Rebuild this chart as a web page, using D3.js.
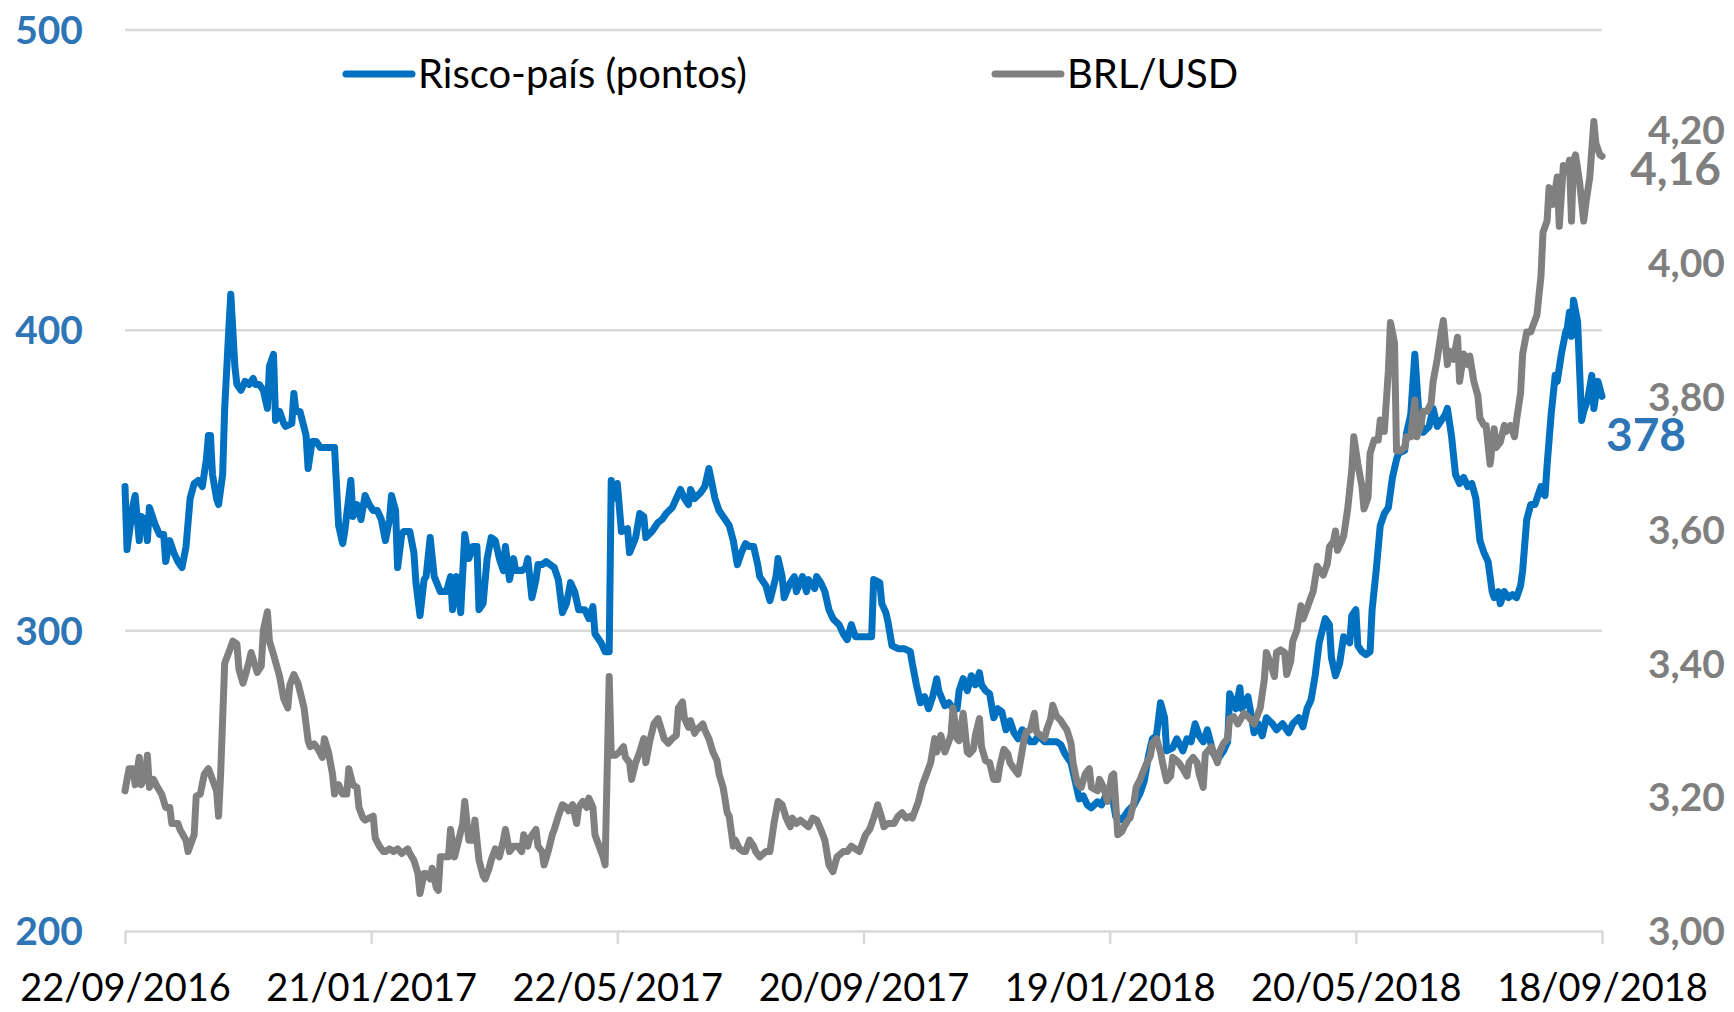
<!DOCTYPE html>
<html>
<head>
<meta charset="utf-8">
<title>Risco-país e BRL/USD</title>
<script src="https://cdnjs.cloudflare.com/ajax/libs/d3/7.8.5/d3.min.js"></script>
<style>
body {
  margin: 0;
  background: #ffffff;
}
svg {
  display: block;
  font-family: Lato, "Open Sans", sans-serif;
}
.grid line {
  stroke: #d9d9d9;
  stroke-width: 2.5px;
}
.series {
  fill: none;
  stroke-width: 7px;
  stroke-linejoin: round;
  stroke-linecap: round;
}
</style>
</head>
<body>
<div id="chart"></div>
<script>
// x axis labels (dd/mm/yyyy), also used as tick positions
var tickLabels = ["22/09/2016", "21/01/2017", "22/05/2017", "20/09/2017",
  "19/01/2018", "20/05/2018", "18/09/2018"];
var leftTicks = [200, 300, 400, 500];
var rightTicks = [3.0, 3.2, 3.4, 3.6, 3.8, 4.0, 4.2];

// Risco-país (pontos): days after 22/09/2016, values
var riscoDays = [0,1,4,5,7,8,10,11,12,15,17,19,20,22,24,26,28,30,32,34,36,38,40,41,42,43,45,46,48,49,
  51,52,54,55,57,59,61,63,64,66,68,70,71,73,74,76,78,79,82,83,84,86,89,90,92,94,96,100,103,105,
  107,108,111,112,114,116,118,120,122,124,126,128,130,131,133,134,136,137,140,142,143,145,147,148,150,152,155,158,160,161,
  163,165,167,169,171,173,174,176,178,180,182,184,186,187,189,191,192,195,197,198,200,202,203,205,207,209,211,213,215,217,
  219,221,223,226,228,230,231,234,236,238,239,240,242,244,247,248,251,253,255,256,259,262,264,266,269,271,273,275,277,278,
  280,283,285,287,290,292,295,297,299,301,303,305,307,309,311,312,315,317,320,321,323,324,327,329,330,333,335,336,339,340,
  342,344,346,348,351,353,355,357,359,361,365,367,368,371,372,374,375,377,380,383,386,387,389,391,393,395,397,399,400,403,
  405,407,409,410,412,414,416,418,420,421,423,425,427,429,431,433,435,437,439,441,443,445,447,449,452,455,458,460,462,465,
  467,469,471,473,475,478,480,482,485,487,490,493,496,499,501,503,505,507,509,511,512,515,517,520,522,524,526,528,530,532,
  535,537,540,542,543,546,548,549,552,553,555,557,559,561,564,566,569,572,574,577,579,581,583,585,587,590,592,593,595,597,
  599,602,603,605,606,608,610,612,613,615,617,619,621,623,625,626,629,630,632,634,636,638,641,643,645,647,649,650,652,654,
  656,658,660,662,664,666,668,670,672,673,675,676,678,680,682,684,686,687,689,691,693,694,696,698,699,701,703,704,706,708,
  709,710,711,712,714,716,717,719,721,722,724,726];
var riscoValues = [348,327,342,345,330,338,337,330,341,335,332,332,323,330,326,323,321,328,344,349,350,348,357,365,365,352,344,342,352,374,
  400,412,388,382,380,383,382,384,382,382,380,374,388,392,370,373,369,368,369,379,373,373,365,354,363,363,361,361,361,335,
  329,333,350,338,342,337,345,342,340,340,337,330,337,345,340,321,332,333,333,326,316,305,317,318,331,318,313,313,318,307,
  318,306,332,324,328,328,307,309,324,331,330,324,320,328,317,324,320,320,321,324,311,317,322,322,323,322,321,317,306,309,
  316,313,307,307,304,308,299,296,293,293,350,344,349,333,334,326,331,339,338,331,333,336,337,339,341,344,347,344,342,347,
  344,346,348,354,344,340,337,335,330,322,326,329,328,328,322,318,315,310,318,324,318,311,316,318,313,318,313,317,314,318,
  316,313,307,304,302,299,297,302,298,298,298,298,317,316,309,306,303,295,294,294,293,289,282,276,278,274,278,284,280,275,
  276,274,274,280,284,280,285,282,286,282,280,279,271,274,273,267,270,266,264,267,265,263,263,265,263,263,263,262,259,256,
  250,244,245,242,241,243,242,245,246,238,237,240,242,246,250,258,264,265,276,271,260,261,264,260,264,263,269,265,263,267,
  259,257,260,263,279,274,281,274,278,274,266,269,265,271,269,267,269,266,269,271,268,274,277,285,296,304,302,291,285,289,
  298,296,305,307,295,293,292,293,307,320,335,339,341,351,357,359,360,366,372,392,372,366,368,374,368,370,372,374,365,352,
  349,351,348,349,344,330,326,323,313,311,313,309,313,311,312,311,315,320,337,342,342,344,348,345,355,372,385,383,392,399,
  401,406,398,410,403,370,373,377,385,374,383,378];

// BRL/USD: days after 22/09/2016, values
var brlDays = [0,2,4,5,7,8,10,11,12,14,16,18,20,22,23,26,27,30,31,34,35,37,39,41,42,45,46,47,49,51,
  53,55,56,58,59,61,62,64,65,67,68,70,71,73,75,76,78,80,81,83,85,86,88,90,91,93,95,97,98,100,
  102,103,105,107,109,110,112,114,115,117,118,120,122,123,125,127,128,130,132,134,136,139,140,142,144,145,147,148,150,151,
  153,154,155,157,159,160,162,164,166,167,169,171,172,174,176,177,179,180,182,184,186,187,189,191,193,195,196,198,199,202,
  203,205,206,208,210,211,213,215,217,218,220,222,223,225,227,228,230,231,234,235,236,238,239,241,243,245,246,248,249,251,
  253,255,256,258,260,262,265,267,269,271,272,274,275,277,278,280,281,284,285,287,289,291,292,294,296,297,299,300,302,304,
  305,307,309,310,312,315,317,319,321,323,325,327,328,330,332,334,336,338,340,342,344,346,348,350,353,355,357,359,361,364,
  366,368,370,372,373,375,378,380,382,384,386,387,390,392,394,396,398,399,401,403,404,406,407,409,410,412,414,415,417,418,
  420,421,423,425,427,429,430,432,434,435,437,439,440,442,443,445,447,448,450,452,453,455,456,458,460,461,463,465,466,468,
  470,472,474,475,478,479,481,483,485,486,488,490,491,493,494,496,497,499,500,502,504,505,507,509,510,512,514,515,517,518,
  520,522,523,525,527,528,530,531,534,535,537,538,540,542,543,545,547,548,550,552,553,555,556,558,560,561,563,565,566,568,
  570,571,573,574,576,578,579,581,583,584,586,587,589,591,592,594,595,596,598,599,601,603,604,606,608,609,611,612,614,616,
  617,619,621,622,624,625,627,629,630,632,634,635,637,638,640,642,643,645,647,648,650,651,653,655,656,658,660,661,663,665,
  666,668,669,671,673,674,676,678,679,681,683,684,686,687,689,691,692,694,696,697,699,700,702,704,705,707,709,710,711,712,
  713,715,717,718,720,722,723,725,726];
var brlValues = [3.210,3.243,3.243,3.219,3.260,3.219,3.235,3.263,3.215,3.227,3.215,3.205,3.185,3.185,3.161,3.161,3.152,3.136,3.119,3.144,
  3.202,3.205,3.235,3.243,3.235,3.210,3.172,3.235,3.401,3.417,3.434,3.430,3.392,3.371,3.381,3.404,3.417,3.397,3.387,3.397,
  3.450,3.478,3.434,3.414,3.392,3.381,3.348,3.334,3.368,3.384,3.371,3.359,3.334,3.285,3.276,3.280,3.272,3.260,3.288,3.268,
  3.235,3.205,3.219,3.205,3.205,3.243,3.219,3.215,3.185,3.169,3.166,3.169,3.172,3.139,3.127,3.119,3.119,3.123,3.119,3.123,
  3.116,3.123,3.116,3.106,3.086,3.056,3.086,3.086,3.078,3.094,3.065,3.061,3.111,3.111,3.111,3.152,3.111,3.136,3.161,3.194,
  3.136,3.136,3.166,3.106,3.083,3.078,3.094,3.106,3.123,3.111,3.136,3.152,3.119,3.127,3.127,3.119,3.144,3.127,3.139,3.152,
  3.127,3.119,3.099,3.119,3.144,3.152,3.172,3.189,3.185,3.180,3.189,3.161,3.185,3.194,3.185,3.199,3.185,3.144,3.119,3.111,
  3.099,3.381,3.263,3.263,3.268,3.276,3.260,3.252,3.227,3.252,3.268,3.288,3.252,3.285,3.310,3.318,3.288,3.281,3.288,3.293,
  3.334,3.343,3.318,3.305,3.315,3.296,3.301,3.310,3.301,3.288,3.268,3.255,3.235,3.215,3.177,3.172,3.127,3.136,3.123,3.119,
  3.119,3.136,3.127,3.119,3.111,3.119,3.119,3.161,3.194,3.189,3.169,3.156,3.169,3.161,3.166,3.161,3.156,3.169,3.166,3.152,
  3.136,3.099,3.089,3.111,3.119,3.119,3.127,3.123,3.119,3.144,3.152,3.169,3.189,3.169,3.156,3.161,3.161,3.172,3.177,3.169,
  3.172,3.169,3.194,3.219,3.235,3.252,3.288,3.268,3.293,3.268,3.276,3.293,3.334,3.288,3.285,3.326,3.268,3.265,3.272,3.293,
  3.318,3.276,3.255,3.252,3.227,3.227,3.247,3.272,3.265,3.252,3.243,3.235,3.252,3.288,3.298,3.301,3.326,3.298,3.293,3.288,
  3.301,3.318,3.338,3.321,3.315,3.310,3.301,3.281,3.252,3.222,3.215,3.235,3.243,3.215,3.210,3.227,3.215,3.194,3.232,3.235,
  3.144,3.149,3.156,3.166,3.169,3.194,3.215,3.227,3.235,3.250,3.262,3.281,3.288,3.268,3.252,3.225,3.232,3.260,3.255,3.252,
  3.243,3.232,3.252,3.260,3.252,3.235,3.215,3.265,3.276,3.268,3.252,3.268,3.281,3.288,3.318,3.321,3.310,3.315,3.326,3.321,
  3.318,3.310,3.318,3.334,3.376,3.417,3.401,3.381,3.417,3.421,3.417,3.384,3.404,3.434,3.450,3.487,3.467,3.483,3.500,3.508,
  3.546,3.541,3.533,3.550,3.575,3.583,3.599,3.570,3.583,3.591,3.632,3.690,3.740,3.699,3.666,3.632,3.649,3.715,3.735,3.735,
  3.765,3.748,3.839,3.911,3.881,3.719,3.719,3.724,3.740,3.740,3.795,3.740,3.757,3.778,3.778,3.790,3.823,3.856,3.897,3.914,
  3.848,3.868,3.856,3.889,3.823,3.864,3.848,3.861,3.823,3.801,3.768,3.757,3.757,3.699,3.752,3.724,3.732,3.757,3.748,3.757,
  3.740,3.765,3.806,3.864,3.897,3.897,3.906,3.922,3.980,4.046,4.063,4.113,4.088,4.129,4.055,4.146,4.137,4.154,4.063,4.154,
  4.162,4.121,4.063,4.088,4.129,4.212,4.179,4.162,4.160];

var legendNames = ["Risco-país (pontos)", "BRL/USD"];
var seriesColors = ["#0070c0", "#808080"];

var width = 1734,
  height = 1012,
  margin = {top: 30, right: 132, bottom: 81, left: 125};

var parseDate = d3.timeParse("%d/%m/%Y");
var tickDates = tickLabels.map(parseDate);
var start = tickDates[0];

var x = d3.scaleTime()
  .domain([tickDates[0], tickDates[tickDates.length - 1]])
  .range([margin.left, width - margin.right]);

var yLeft = d3.scaleLinear()
  .domain([200, 500])
  .range([height - margin.bottom, margin.top]);

var yRight = d3.scaleLinear()
  .domain([3, 4.349])
  .range([height - margin.bottom, margin.top]);

var ptBR = d3.formatLocale({decimal: ",", thousands: ".", grouping: [3], currency: ["R$", ""]});
var fmtRight = ptBR.format(".2f");

var svg = d3.select("#chart")
  .append("svg")
  .attr("width", width)
  .attr("height", height);

// horizontal gridlines
svg.append("g")
  .attr("class", "grid")
  .selectAll("line")
  .data(leftTicks.slice(1))
  .enter()
  .append("line")
  .attr("x1", margin.left)
  .attr("x2", width - margin.right)
  .attr("y1", function(d) { return yLeft(d); })
  .attr("y2", function(d) { return yLeft(d); });

// x axis
var xAxis = d3.axisBottom(x)
  .tickValues(tickDates)
  .tickSize(13)
  .tickSizeOuter(0)
  .tickPadding(30)
  .tickFormat(d3.timeFormat("%d/%m/%Y"));

var gx = svg.append("g")
  .attr("transform", "translate(0," + yLeft(200) + ")")
  .call(xAxis);
gx.select(".domain").attr("stroke", "#d9d9d9").attr("stroke-width", 2.5);
gx.selectAll(".tick line").attr("stroke", "#d9d9d9").attr("stroke-width", 2.5);
gx.selectAll(".tick text")
  .attr("fill", "#000")
  .style("font-size", "38px")
  .style("font-family", "Lato, sans-serif");

// left axis labels
svg.append("g")
  .selectAll("text")
  .data(leftTicks)
  .enter()
  .append("text")
  .attr("x", 83)
  .attr("y", function(d) { return yLeft(d); })
  .attr("dy", "0.36em")
  .attr("text-anchor", "end")
  .attr("fill", "#2e75b6")
  .style("font-size", "39px")
  .style("font-weight", "bold")
  .text(function(d) { return d; });

// right axis labels
svg.append("g")
  .selectAll("text")
  .data(rightTicks)
  .enter()
  .append("text")
  .attr("x", 1725)
  .attr("y", function(d) { return yRight(d); })
  .attr("dy", "0.36em")
  .attr("text-anchor", "end")
  .attr("fill", "#7f7f7f")
  .style("font-size", "39px")
  .style("font-weight", "bold")
  .text(function(d) { return fmtRight(d); });

function toPoints(days, values) {
  return days.map(function(d, i) {
    return {date: d3.timeDay.offset(start, d), value: values[i]};
  });
}

var risco = toPoints(riscoDays, riscoValues);
var brl = toPoints(brlDays, brlValues);

var lineLeft = d3.line()
  .x(function(d) { return x(d.date); })
  .y(function(d) { return yLeft(d.value); });

var lineRight = d3.line()
  .x(function(d) { return x(d.date); })
  .y(function(d) { return yRight(d.value); });

svg.append("path")
  .datum(risco)
  .attr("class", "series")
  .attr("stroke", seriesColors[0])
  .attr("d", lineLeft);

svg.append("path")
  .datum(brl)
  .attr("class", "series")
  .attr("stroke", seriesColors[1])
  .attr("d", lineRight);

// last value labels
var lastRisco = risco[risco.length - 1],
  lastBrl = brl[brl.length - 1];

svg.append("text")
  .attr("x", x(lastRisco.date) + 4)
  .attr("y", yLeft(lastRisco.value) + 38)
  .attr("dy", "0.36em")
  .attr("fill", "#2e75b6")
  .style("font-size", "46px")
  .style("font-weight", "bold")
  .text(lastRisco.value);

svg.append("text")
  .attr("x", 1721)
  .attr("y", yRight(lastBrl.value) + 12)
  .attr("dy", "0.36em")
  .attr("text-anchor", "end")
  .attr("fill", "#7f7f7f")
  .style("font-size", "46px")
  .style("font-weight", "bold")
  .text(fmtRight(lastBrl.value));

// legend
var legendX = [346, 995];
var legend = svg.append("g")
  .selectAll("g")
  .data(legendNames)
  .enter()
  .append("g")
  .attr("transform", function(d, i) { return "translate(" + legendX[i] + ",74)"; });

legend.append("line")
  .attr("x1", 0)
  .attr("x2", 66)
  .attr("stroke", function(d, i) { return seriesColors[i]; })
  .attr("stroke-width", 7)
  .attr("stroke-linecap", "round");

legend.append("text")
  .attr("x", 72)
  .attr("dy", "0.36em")
  .attr("fill", "#000")
  .style("font-size", "40px")
  .text(function(d) { return d; });
</script>
</body>
</html>
